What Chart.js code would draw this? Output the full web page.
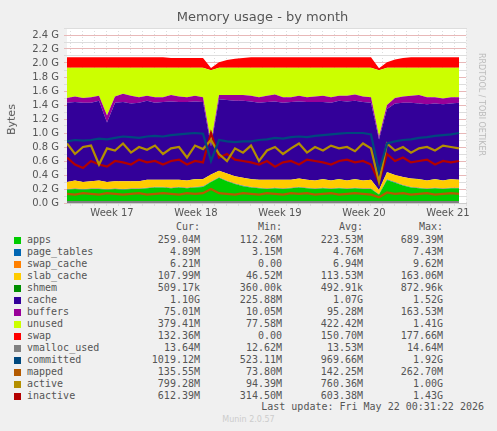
<!DOCTYPE html>
<html><head><meta charset="utf-8">
<script src="https://cdn.jsdelivr.net/npm/chart.js@4/dist/chart.umd.min.js"></script>
<style>
body{margin:0;background:#F0F0F0;width:497px;height:431px;overflow:hidden;font-family:"DejaVu Sans",sans-serif;position:relative}
#c{position:absolute;left:0;top:0}
.t{position:absolute;white-space:pre}
#leg{position:absolute;left:0;top:221px;font-family:"DejaVu Sans Mono",monospace;font-size:10px;color:#555}
.row{position:absolute;height:12px;line-height:12px;white-space:pre}
.sw{position:absolute;width:7px;height:7px;top:3px}
</style></head><body>
<canvas id="c" width="497" height="220"></canvas>
<div class="t" style="left:0;width:525px;text-align:center;top:9px;font-size:13px;color:#555">Memory usage - by month</div>
<div class="t" style="left:-4px;top:113px;font-size:11px;color:#555;transform:rotate(-90deg)">Bytes</div>
<div class="t" style="left:430px;top:100px;font-size:8px;color:#bbb;transform:rotate(90deg);transform-origin:center">RRDTOOL / TOBI OETIKER</div>
<div id="leg"></div>
<div class="t" style="right:13px;top:401px;font-family:'DejaVu Sans Mono',monospace;font-size:10px;color:#555">Last update: Fri May 22 00:31:22 2026</div>
<div class="t" style="left:0;width:497px;text-align:center;top:415px;font-size:8px;color:#ccc">Munin 2.0.57</div>
<script>
const hours=[];for(let i=0;i<50;i++)hours.push(i*16);
const weekTicks=[90,258,426,594,762];
const weekLabels=["Week 17","Week 18","Week 19","Week 20","Week 21"];
const apps=[0.19,0.2,0.19,0.2,0.2,0.19,0.2,0.19,0.2,0.2,0.21,0.22,0.22,0.21,0.22,0.21,0.22,0.23,0.3,0.36,0.31,0.27,0.24,0.22,0.21,0.2,0.21,0.2,0.21,0.22,0.21,0.2,0.21,0.2,0.21,0.2,0.21,0.2,0.2,0.12,0.33,0.29,0.25,0.22,0.21,0.2,0.21,0.2,0.21,0.21];
const page_tables=[0.005,0.005,0.005,0.005,0.005,0.005,0.005,0.005,0.005,0.005,0.005,0.005,0.005,0.005,0.005,0.005,0.005,0.005,0.004,0.005,0.005,0.005,0.005,0.005,0.005,0.005,0.005,0.005,0.005,0.005,0.005,0.005,0.005,0.005,0.005,0.005,0.005,0.005,0.005,0.004,0.005,0.005,0.005,0.005,0.005,0.005,0.005,0.005,0.005,0.005];
const swap_cache=[0.006,0.006,0.006,0.006,0.006,0.006,0.006,0.006,0.006,0.006,0.006,0.006,0.006,0.006,0.006,0.006,0.006,0.006,0.003,0.006,0.006,0.006,0.006,0.006,0.006,0.006,0.006,0.006,0.006,0.006,0.006,0.006,0.006,0.006,0.006,0.006,0.006,0.006,0.006,0.002,0.006,0.006,0.006,0.006,0.006,0.006,0.006,0.006,0.006,0.006];
const slab_cache=[0.1,0.11,0.1,0.1,0.11,0.1,0.1,0.11,0.1,0.1,0.11,0.1,0.1,0.11,0.1,0.1,0.11,0.1,0.1,0.09,0.1,0.1,0.11,0.11,0.11,0.12,0.11,0.12,0.11,0.12,0.11,0.11,0.12,0.11,0.12,0.11,0.12,0.11,0.12,0.06,0.1,0.1,0.11,0.12,0.12,0.11,0.12,0.11,0.12,0.11];
const shmem=[0.0005,0.0005,0.0005,0.0005,0.0005,0.0005,0.0005,0.0005,0.0005,0.0005,0.0005,0.0005,0.0005,0.0005,0.0005,0.0005,0.0005,0.0005,0.0004,0.0005,0.0005,0.0005,0.0005,0.0005,0.0005,0.0005,0.0005,0.0005,0.0005,0.0005,0.0005,0.0005,0.0005,0.0005,0.0005,0.0005,0.0005,0.0005,0.0005,0.0004,0.0005,0.0005,0.0005,0.0005,0.0005,0.0005,0.0005,0.0005,0.0005,0.0005];
const cache=[1.13,1.12,1.13,1.12,1.14,0.85,1.12,1.13,1.11,1.12,1.13,1.1,1.11,1.12,1.11,1.12,1.11,1.1,0.4,1.02,1.05,1.08,1.1,1.11,1.1,1.11,1.12,1.1,1.11,1.1,1.11,1.12,1.1,1.11,1.12,1.13,1.12,1.12,1.1,0.72,0.9,1.02,1.06,1.08,1.08,1.09,1.08,1.09,1.08,1.1];
const buffers=[0.07,0.08,0.07,0.08,0.07,0.1,0.09,0.12,0.11,0.08,0.07,0.08,0.07,0.09,0.08,0.07,0.08,0.07,0.05,0.06,0.07,0.08,0.08,0.08,0.08,0.09,0.1,0.08,0.07,0.08,0.07,0.08,0.09,0.08,0.07,0.08,0.09,0.08,0.08,0.04,0.06,0.08,0.09,0.1,0.12,0.1,0.09,0.08,0.09,0.08];
const unused=[0.43,0.41,0.43,0.42,0.4,0.68,0.41,0.37,0.4,0.42,0.4,0.42,0.42,0.39,0.41,0.42,0.4,0.42,1.04,0.39,0.39,0.39,0.39,0.4,0.42,0.4,0.38,0.42,0.42,0.4,0.42,0.41,0.4,0.42,0.4,0.4,0.38,0.41,0.42,0.95,0.53,0.43,0.41,0.4,0.39,0.42,0.42,0.44,0.42,0.42];
const swap=[0.15,0.15,0.15,0.15,0.15,0.15,0.15,0.15,0.15,0.15,0.15,0.15,0.15,0.14,0.14,0.14,0.14,0.14,0.03,0.08,0.11,0.13,0.14,0.15,0.15,0.15,0.15,0.15,0.15,0.15,0.15,0.15,0.15,0.15,0.15,0.15,0.15,0.15,0.15,0.03,0.08,0.12,0.14,0.15,0.15,0.15,0.15,0.15,0.15,0.15];
const vmalloc_used=[0.014,0.014,0.014,0.014,0.014,0.014,0.014,0.014,0.014,0.014,0.014,0.014,0.014,0.014,0.014,0.014,0.014,0.014,0.013,0.014,0.014,0.014,0.014,0.014,0.014,0.014,0.014,0.014,0.014,0.014,0.014,0.014,0.014,0.014,0.014,0.014,0.014,0.014,0.014,0.013,0.014,0.014,0.014,0.014,0.014,0.014,0.014,0.014,0.014,0.014];
const committed=[0.88,0.9,0.89,0.9,0.92,0.91,0.93,0.95,0.94,0.93,0.95,0.96,0.95,0.97,0.98,0.99,1.0,0.99,0.6,0.9,0.88,0.87,0.88,0.88,0.9,0.91,0.93,0.92,0.94,0.95,0.94,0.96,0.97,0.98,0.99,1.0,1.0,1.0,0.98,0.45,0.85,0.88,0.9,0.91,0.93,0.94,0.96,0.97,0.98,1.0];
const mapped=[0.13,0.12,0.14,0.13,0.12,0.14,0.13,0.12,0.13,0.14,0.12,0.13,0.14,0.13,0.12,0.14,0.13,0.14,0.2,0.14,0.13,0.12,0.14,0.13,0.12,0.14,0.13,0.12,0.14,0.13,0.14,0.12,0.13,0.14,0.12,0.13,0.14,0.13,0.12,0.08,0.15,0.13,0.14,0.12,0.13,0.14,0.12,0.13,0.14,0.13];
const active=[0.85,0.7,0.8,0.82,0.55,0.78,0.75,0.85,0.72,0.8,0.76,0.82,0.7,0.78,0.8,0.65,0.82,0.77,0.9,0.7,0.6,0.78,0.72,0.82,0.6,0.75,0.8,0.7,0.78,0.85,0.72,0.8,0.75,0.82,0.78,0.8,0.74,0.85,0.78,0.3,0.85,0.75,0.8,0.72,0.78,0.8,0.75,0.82,0.8,0.78];
const inactive=[0.65,0.55,0.5,0.6,0.55,0.52,0.6,0.58,0.55,0.62,0.58,0.6,0.55,0.6,0.62,0.55,0.6,0.58,1.0,0.65,0.7,0.62,0.6,0.58,0.55,0.6,0.52,0.58,0.6,0.55,0.62,0.6,0.58,0.55,0.6,0.62,0.58,0.6,0.55,0.3,0.7,0.6,0.65,0.58,0.6,0.62,0.55,0.6,0.58,0.6];
const names=["apps","page_tables","swap_cache","slab_cache","shmem","cache","buffers","unused","swap","vmalloc_used","committed","mapped","active","inactive"];
const colors=["#00CC00","#0066B3","#FF8000","#FFCC00","#008F00","#330099","#990099","#CCFF00","#FF0000","#808080","#00487D","#B35A00","#B38F00","#B30000"];
const curV=["259.04M","4.89M","6.21M","107.99M","509.17k","1.10G","75.01M","379.41M","132.36M","13.64M","1019.12M","135.55M","799.28M","612.39M"];
const minV=["112.26M","3.15M","0.00","46.52M","360.00k","225.88M","10.05M","77.58M","0.00","12.62M","523.11M","73.80M","94.39M","314.50M"];
const avgV=["223.53M","4.76M","6.94M","113.53M","492.91k","1.07G","95.28M","422.42M","150.70M","13.53M","969.66M","142.25M","760.36M","603.38M"];
const maxV=["689.39M","7.43M","9.62M","163.06M","872.96k","1.52G","163.53M","1.41G","177.66M","14.64M","1.92G","262.70M","1.00G","1.43G"];
const series=[apps,page_tables,swap_cache,slab_cache,shmem,cache,buffers,unused,swap,vmalloc_used,committed,mapped,active,inactive];
const nStack=9;
const datasets=series.map((s,k)=>{
  const d={label:names[k],data:s.map((v,i)=>({x:hours[i],y:v})),borderColor:colors[k],pointRadius:0,tension:0};
  if(k<nStack){d.stack="mem";d.order=10;d.fill=k===0?"origin":"-1";d.backgroundColor=colors[k];d.borderWidth=0;}
  else{d.stack="l"+k;d.order=k-20;d.fill=false;d.borderWidth=2.2;}
  return d;
});
const dayGrid=[];for(let h=6;h<=798;h+=24)dayGrid.push(h);
const bg={id:"bg",beforeDraw(c){const a=c.chartArea,x=c.ctx;x.save();x.fillStyle="#fff";x.fillRect(a.left,a.top,a.right-a.left,a.bottom-a.top);x.restore();}};
new Chart(document.getElementById("c"),{type:"line",data:{datasets},plugins:[bg],
options:{responsive:false,animation:false,events:[],layout:{padding:{left:0,top:28,right:31,bottom:0}},
plugins:{legend:{display:false},tooltip:{enabled:false}},
scales:{
x:{type:"linear",min:0,max:798,
 afterBuildTicks(a){a.ticks=dayGrid.concat(weekTicks).sort((p,q)=>p-q).map(v=>({value:v}));},
 afterFit(a){a.height=17;},
 ticks:{autoSkip:false,maxRotation:0,padding:1,color:"#555",font:{family:"DejaVu Sans",size:10},callback(v){const i=weekTicks.indexOf(v);return i>=0?weekLabels[i]:"";}},
 grid:{color(c){return weekTicks.includes(c.tick&&c.tick.value)?"rgba(0,0,0,0)":"#ddd";},tickLength:3,lineWidth:1},border:{color:"#ccc",dash:[1,2]}},
y:{stacked:true,min:0,max:2.5,
 afterBuildTicks(a){const t=[];for(let i=0;i<=25;i++)t.push({value:i/10});a.ticks=t;},
 afterFit(a){a.width=67;},
 ticks:{autoSkip:false,padding:5,color:"#555",font:{family:"DejaVu Sans",size:10},callback(v){const n=Math.round(v*10);return n%2===0&&n<=24?(n/10).toFixed(1)+" G":"";}},
 grid:{color(c){const n=Math.round(c.tick.value*10);return n%2===0?"#e8b8b8":"#ddd";},tickLength:3},border:{display:false}}
}}});
const leg=document.getElementById("leg");
let h='<div class="row" style="top:0;left:0;width:200px;text-align:right">Cur:</div><div class="row" style="top:0;left:0;width:282px;text-align:right">Min:</div><div class="row" style="top:0;left:0;width:363px;text-align:right">Avg:</div><div class="row" style="top:0;left:0;width:443px;text-align:right">Max:</div>';
names.forEach((n,k)=>{const t=13+k*12;
 h+=`<div class="sw" style="left:14px;top:${t+3}px;background:${colors[k]}"></div><div class="row" style="top:${t}px;left:27px">${n}</div>`;
 [[curV,200],[minV,282],[avgV,363],[maxV,443]].forEach(([a,w])=>{h+=`<div class="row" style="top:${t}px;left:0;width:${w}px;text-align:right">${a[k]}</div>`;});
});
leg.innerHTML=h;
</script></body></html>
